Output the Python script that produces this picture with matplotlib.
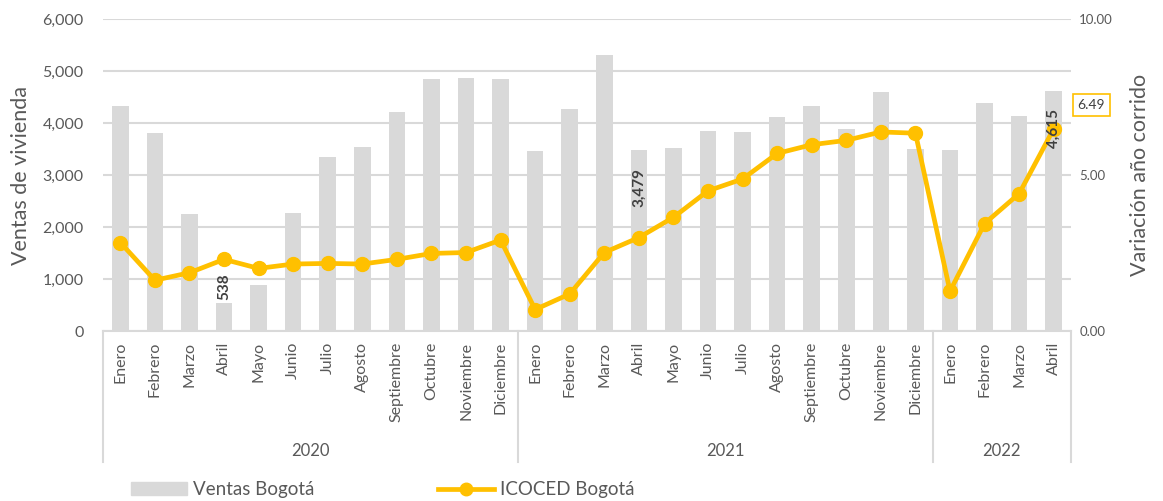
import matplotlib.pyplot as plt
from matplotlib.patches import Patch
from matplotlib.lines import Line2D
from matplotlib.transforms import blended_transform_factory

plt.rcParams['font.family'] = ['Lato', 'DejaVu Sans']

# data
months = ['Enero', 'Febrero', 'Marzo', 'Abril', 'Mayo', 'Junio', 'Julio', 'Agosto',
          'Septiembre', 'Octubre', 'Noviembre', 'Diciembre',
          'Enero', 'Febrero', 'Marzo', 'Abril', 'Mayo', 'Junio', 'Julio', 'Agosto',
          'Septiembre', 'Octubre', 'Noviembre', 'Diciembre',
          'Enero', 'Febrero', 'Marzo', 'Abril']
years = ['2020', '2021', '2022']
year_counts = [12, 12, 4]
ventas = [4325, 3810, 2245, 538, 885, 2280, 3345, 3545, 4225, 4845, 4880, 4860,
          3475, 4270, 5320, 3479, 3520, 3845, 3830, 4130, 4340, 3890, 4610, 3505,
          3495, 4400, 4150, 4615]
icoced = [2.84, 1.63, 1.87, 2.30, 2.01, 2.15, 2.17, 2.15, 2.30, 2.49, 2.52, 2.92,
          0.69, 1.19, 2.52, 3.00, 3.65, 4.50, 4.88, 5.70, 5.98, 6.12, 6.39, 6.35,
          1.28, 3.45, 4.41, 6.49]
labeled_bars = [3, 15, 27]

gray_txt = '#595959'
bar_col = '#d9d9d9'
line_col = '#ffc000'

fig = plt.figure(figsize=(11.63, 5.01), dpi=100)
ax = fig.add_axes([0.0886, 0.3393, 0.8323, 0.6218])
x = list(range(len(months)))

ax.bar(x, ventas, width=0.48, color=bar_col, zorder=2)
ax.set_ylim(0, 6000)
ax.set_xlim(-0.5, len(months) - 0.5)
ax.set_yticks(range(0, 6001, 1000))
ax.set_yticklabels([f'{v:,}' for v in range(0, 6001, 1000)])
ax.yaxis.grid(True, color='#d9d9d9', linewidth=1.5, zorder=0)
ax.set_axisbelow(True)
ax.tick_params(axis='y', length=0, labelsize=11.5, labelcolor=gray_txt, pad=14)
ax.tick_params(axis='x', length=0, labelbottom=False)
for s in ['top', 'right', 'left']:
    ax.spines[s].set_visible(False)
ax.spines['bottom'].set_color('#d9d9d9')
ax.spines['bottom'].set_linewidth(1.5)
ax.set_ylabel('Ventas de vivienda', fontsize=15.5, color=gray_txt, labelpad=8)

ax2 = ax.twinx()
ax2.plot(x, icoced, color=line_col, linewidth=3.4, marker='o', markersize=10, zorder=4)
ax2.set_ylim(0, 10)
ax2.set_yticks([0, 5, 10])
ax2.set_yticklabels(['0.00', '5.00', '10.00'])
ax2.tick_params(axis='y', length=0, labelsize=9.5, labelcolor=gray_txt, pad=6)
for s in ax2.spines.values():
    s.set_visible(False)
ax2.set_ylabel('Variación año corrido', fontsize=15.5, color=gray_txt, labelpad=12)

# bar data labels, drawn on top of the line
for i in labeled_bars:
    v = ventas[i]
    if v > 1500:
        ax2.annotate(f'{v:,}', (i, v), xycoords=ax.transData, xytext=(0, -13),
                     textcoords='offset points', rotation=90, ha='center', va='top',
                     fontsize=11, fontweight='bold', color='#404040', zorder=6)
    else:
        ax2.annotate(f'{v:,}', (i, v), xycoords=ax.transData, xytext=(0, 12),
                     textcoords='offset points', rotation=90, ha='center',
                     va='center', fontsize=11, fontweight='bold', color='#404040',
                     zorder=6)

# last value label in a box
ax2.annotate(f'{icoced[-1]:.2f}', (x[-1], icoced[-1]), xytext=(27, 17),
             textcoords='offset points', ha='center', va='center', fontsize=10,
             color='#404040',
             bbox=dict(boxstyle='square,pad=0.35', fc='white', ec=line_col, lw=1.2))

# multi-level category axis
tr = blended_transform_factory(ax.transData, ax.transAxes)
for i, m in enumerate(months):
    ax.text(i, -0.035, m, transform=tr, rotation=90, ha='center', va='top',
            fontsize=11.5, color=gray_txt)
start = 0
ax.plot([-0.5, -0.5], [0, -0.42], transform=tr, color='#d9d9d9', lw=1.5, clip_on=False)
for yr, n in zip(years, year_counts):
    end = start + n
    ax.plot([end - 0.5, end - 0.5], [0, -0.42], transform=tr, color='#d9d9d9',
            lw=1.5, clip_on=False)
    ax.text((start + end - 1) / 2, -0.385, yr, transform=tr, ha='center', va='center',
            fontsize=12, color=gray_txt)
    start = end

handles = [Patch(color=bar_col, label='Ventas Bogotá'),
           Line2D([], [], color=line_col, lw=3.4, marker='o', markersize=9,
                  label='ICOCED Bogotá')]
fig.legend(handles=handles, loc='center left', bbox_to_anchor=(0.098, 0.022), ncol=2,
           frameon=False, fontsize=13.5, handlelength=3.0, columnspacing=6.6,
           labelcolor=gray_txt, handletextpad=0.3)

fig.savefig('out.png', dpi=100)
